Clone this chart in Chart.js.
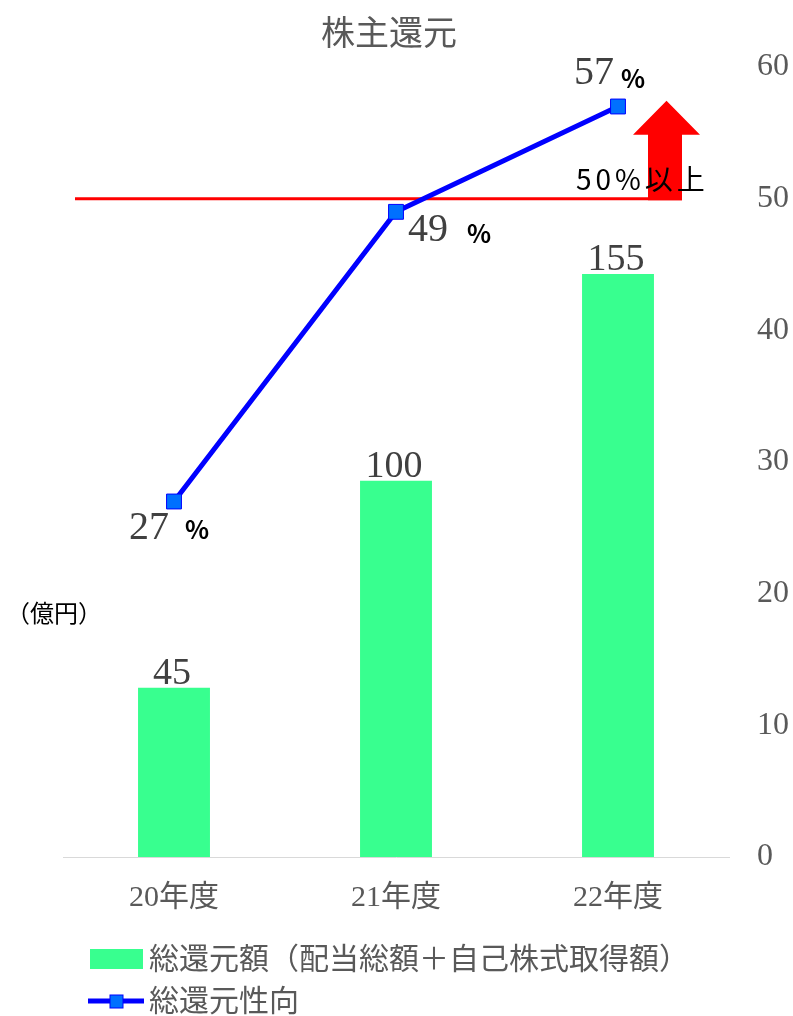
<!DOCTYPE html>
<html lang="ja">
<head>
<meta charset="utf-8">
<title>株主還元</title>
<script src="https://cdn.jsdelivr.net/npm/chart.js@4.4.1/dist/chart.umd.min.js"></script>
<style>
    html, body { margin: 0; padding: 0; background: #fff; }
    #wrap { width: 793px; height: 1016px; position: relative; }
</style>
</head>
<body>
<div id="wrap"><canvas id="shareholderChart"></canvas></div>
<script>
const years = ["20年度", "21年度", "22年度"];
const totalReturn = [45, 100, 155];      // 億円
const payoutRatio = [27, 49, 57];        // %
const rateTicks = [0, 10, 20, 30, 40, 50, 60];
const targetRate = 50;

const titleText = "株主還元";
const unitText = "（億円）";
const targetText = "50%以上";
const legendLabels = ["総還元額（配当総額＋自己株式取得額）", "総還元性向"];

const colors = {
    bar: "#38FF8F",
    line: "#0000FF",
    point: "#0070FF",
    target: "#FF0000",
    gray: "#595959",
    label: "#404040",
};

const serif = "'Liberation Serif', 'Times New Roman', 'Noto Sans CJK JP', serif";
const sans = "'Noto Sans CJK JP', 'Noto Sans', sans-serif";

// ラベル位置（点からのずれ）: [数字の x, 数字の基準線, 右寄せ?, % の x, % の基準線]
const rateLabelOffsets = [
    [-5, 37, true, 11, 37],
    [12, 29, false, 71, 31],
    [-4, -23, true, 3, -19],
];

const overlayPlugin = {
    id: "overlay",
    beforeDatasetsDraw(chart) {
        const { ctx, chartArea, scales } = chart;
        const y = scales.y1.getPixelForValue(targetRate);
        const stemL = 648, stemR = 682, headL = 633, headR = 700;
        const tipY = scales.y1.getPixelForValue(56.9) - 7;
        const headY = tipY + 34;
        ctx.save();
        // 50% 目標線
        ctx.strokeStyle = colors.target;
        ctx.lineWidth = 3;
        ctx.beginPath();
        ctx.moveTo(chartArea.left + 12, y);
        ctx.lineTo(stemR, y);
        ctx.stroke();
        // 上向き矢印
        ctx.fillStyle = colors.target;
        ctx.beginPath();
        ctx.moveTo(stemL, y + 1.5);
        ctx.lineTo(stemL, headY);
        ctx.lineTo(headL, headY);
        ctx.lineTo((headL + headR) / 2, tipY);
        ctx.lineTo(headR, headY);
        ctx.lineTo(stemR, headY);
        ctx.lineTo(stemR, y + 1.5);
        ctx.closePath();
        ctx.fill();
        ctx.fillStyle = "#000";
        ctx.font = "28px " + sans;
        ctx.letterSpacing = "4px";
        ctx.textBaseline = "middle";
        ctx.textAlign = "left";
        ctx.fillText(targetText, 576, y - 19);
        ctx.restore();
    },
    afterDraw(chart) {
        const { ctx } = chart;
        ctx.save();
        ctx.textBaseline = "alphabetic";

        // 棒の値
        ctx.fillStyle = colors.label;
        ctx.font = "38px " + serif;
        ctx.textAlign = "center";
        chart.getDatasetMeta(0).data.forEach((bar, i) => {
            ctx.fillText(String(totalReturn[i]), bar.x - 2, bar.y - 4);
        });

        // 還元性向の値
        chart.getDatasetMeta(1).data.forEach((pt, i) => {
            const [nx, ny, right, px, py] = rateLabelOffsets[i];
            ctx.fillStyle = colors.label;
            ctx.font = "40px " + serif;
            ctx.textAlign = right ? "right" : "left";
            ctx.fillText(String(payoutRatio[i]), pt.x + nx, pt.y + ny);
            ctx.fillStyle = "#000";
            ctx.font = "bold 25px " + sans;
            ctx.textAlign = "left";
            ctx.fillText("%", pt.x + px, pt.y + py);
        });

        // タイトル・単位
        ctx.textBaseline = "middle";
        ctx.fillStyle = colors.gray;
        ctx.font = "34px " + sans;
        ctx.textAlign = "center";
        ctx.fillText(titleText, 389, 32);
        ctx.fillStyle = "#000";
        ctx.font = "24px " + sans;
        ctx.textAlign = "left";
        ctx.fillText(unitText, 6, 613);

        // 凡例
        ctx.fillStyle = colors.bar;
        ctx.fillRect(90, 949, 53, 20);
        ctx.strokeStyle = colors.line;
        ctx.lineWidth = 5;
        ctx.beginPath();
        ctx.moveTo(88, 1001);
        ctx.lineTo(144, 1001);
        ctx.stroke();
        ctx.fillStyle = colors.point;
        ctx.fillRect(110, 995, 13, 13);
        ctx.strokeStyle = colors.line;
        ctx.lineWidth = 1;
        ctx.strokeRect(110, 995, 13, 13);
        ctx.fillStyle = colors.gray;
        ctx.font = "30px " + sans;
        ctx.fillText(legendLabels[0], 149, 958);
        ctx.fillText(legendLabels[1], 149, 1000);
        ctx.restore();
    },
};

new Chart(document.getElementById("shareholderChart"), {
    data: {
        labels: years,
        datasets: [
            {
                type: "bar",
                label: legendLabels[0],
                data: totalReturn,
                yAxisID: "y",
                backgroundColor: colors.bar,
                categoryPercentage: 1,
                barPercentage: 0.324,
                order: 2,
            },
            {
                type: "line",
                label: legendLabels[1],
                data: payoutRatio,
                yAxisID: "y1",
                borderColor: colors.line,
                borderWidth: 5,
                pointStyle: "rect",
                pointRadius: 10.5,
                pointBackgroundColor: colors.point,
                pointBorderColor: colors.line,
                pointBorderWidth: 1,
                tension: 0,
                order: 1,
            },
        ],
    },
    options: {
        responsive: true,
        maintainAspectRatio: false,
        animation: false,
        layout: { padding: { top: 67, left: 63, right: 0, bottom: 0 } },
        plugins: {
            legend: { display: false },
            tooltip: { enabled: false },
        },
        scales: {
            x: {
                grid: { display: false, drawTicks: false },
                border: { display: true, color: "#D9D9D9", width: 1 },
                ticks: {
                    color: colors.gray,
                    font: { family: serif, size: 30 },
                    padding: 23,
                },
                afterFit(scale) { scale.height = 159; },
            },
            y: {
                display: false,
                min: 0,
                max: 210,
            },
            y1: {
                position: "right",
                min: 0,
                max: 60,
                afterBuildTicks(scale) {
                    scale.ticks = rateTicks.map((v) => ({ value: v }));
                },
                grid: { display: false, drawTicks: false },
                border: { display: false },
                ticks: {
                    color: colors.gray,
                    font: { family: serif, size: 32 },
                    padding: 28,
                },
                afterFit(scale) { scale.width = 64; },
            },
        },
    },
    plugins: [overlayPlugin],
});
</script>
</body>
</html>
